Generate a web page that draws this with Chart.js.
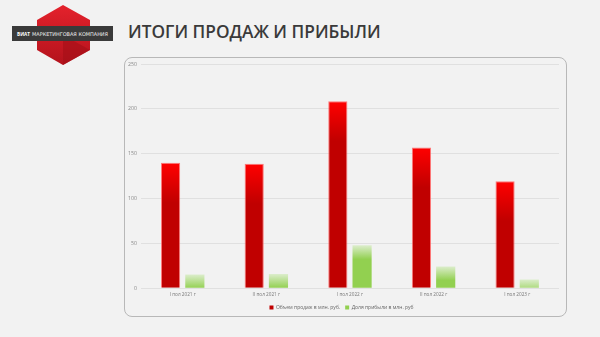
<!DOCTYPE html>
<html lang="ru">
<head>
<meta charset="utf-8">
<script src="https://cdn.jsdelivr.net/npm/chart.js@4"></script>
<style>
  html, body { margin: 0; padding: 0; }
  body { width: 600px; height: 337px; background: #f2f2f2; position: relative; overflow: hidden; font-family: "Open Sans", sans-serif; }
  .logo { position: absolute; left: 0; top: 0; }
  h1 { position: absolute; left: 128px; top: 20px; margin: 0; font-size: 17.3px; font-weight: 600; color: #3a3a3a; }
  .panel { position: absolute; left: 124px; top: 57px; width: 441px; height: 258px; border: 1px solid #b8b8b8; border-radius: 8px; }
  #chart { position: absolute; left: 124px; top: 57px; }
</style>
</head>
<body>
<svg class="logo" width="125" height="66" viewBox="0 0 125 66">
  <defs>
    <linearGradient id="hex" x1="0" y1="0" x2="0" y2="1">
      <stop offset="0" stop-color="#e4222c"/>
      <stop offset="1" stop-color="#b3121c"/>
    </linearGradient>
  </defs>
  <polygon points="63,5 90,20 90,50 63,65 37,50 37,20" fill="url(#hex)"/>
  <polygon points="63,35 90,50 63,65" fill="#a30f18" opacity="0.6"/>
  <rect x="12" y="26" width="101" height="15" fill="#3a3a3a"/>
  <text x="17" y="36" font-family="Open Sans, sans-serif" font-size="5" fill="#fff" textLength="13" lengthAdjust="spacingAndGlyphs"><tspan font-weight="700">ВИАТ</tspan></text>
  <text x="32" y="36" font-family="Liberation Sans Narrow, DejaVu Sans Condensed, sans-serif" font-size="5" fill="#eee" textLength="76" lengthAdjust="spacingAndGlyphs">МАРКЕТИНГОВАЯ КОМПАНИЯ</text>
</svg>
<h1>ИТОГИ ПРОДАЖ И ПРИБЫЛИ</h1>
<div class="panel"></div>
<canvas id="chart" width="442" height="266"></canvas>
<script>
// periods and values, mln rub
const periods = ['I пол 2021 г', 'II пол 2021 г', 'I пол 2022 г', 'II пол 2022 г', 'I пол 2023 г'];
const salesVolume = [140, 139, 208.5, 157, 119.5];
const profitShare = [15.5, 16, 48, 24.5, 10];
const yTicks = [0, 50, 100, 150, 200, 250];

const seriesNames = ['Объем продаж в млн. руб.', 'Доля прибыли в млн. руб'];

// vertical fade from the top of each bar
const fadeFill = (topColor, baseColor, depth) => (ctx) => {
  const chart = ctx.chart;
  if (ctx.type !== 'data' || !chart.chartArea) return baseColor;
  const top = chart.scales.y.getPixelForValue(ctx.raw);
  const g = chart.ctx.createLinearGradient(0, top, 0, top + depth);
  g.addColorStop(0, topColor);
  g.addColorStop(1, baseColor);
  return g;
};

new Chart(document.getElementById('chart'), {
  type: 'bar',
  data: {
    labels: periods,
    datasets: [
      {
        label: seriesNames[0],
        data: salesVolume,
        backgroundColor: fadeFill('#ff0000', '#c00000', 40),
        borderColor: 'rgba(255,90,90,0.8)',
        borderWidth: 1,
        categoryPercentage: 0.58,
        barPercentage: 0.79
      },
      {
        label: seriesNames[1],
        data: profitShare,
        backgroundColor: fadeFill('#dcedcc', '#92d050', 14),
        borderWidth: 0,
        categoryPercentage: 0.58,
        barPercentage: 0.79
      }
    ]
  },
  options: {
    responsive: false,
    animation: false,
    layout: { padding: { left: 0, right: 7, top: 3, bottom: 3 } },
    plugins: {
      tooltip: { enabled: false },
      legend: {
        position: 'bottom',
        labels: {
          boxWidth: 4,
          boxHeight: 4,
          padding: 5,
          color: '#666',
          font: { family: 'Open Sans', size: 5 },
          generateLabels: (chart) => chart.data.datasets.map((ds, i) => ({
            text: ds.label,
            fillStyle: i === 0 ? '#c00000' : '#92d050',
            strokeStyle: 'transparent',
            lineWidth: 0,
            datasetIndex: i,
            fontColor: '#666'
          }))
        }
      }
    },
    scales: {
      x: {
        grid: { display: false, drawTicks: false },
        border: { display: false },
        ticks: { color: '#777', font: { family: 'Open Sans', size: 4.7 }, padding: 3 }
      },
      y: {
        min: 0,
        max: 250,
        afterBuildTicks: (axis) => { axis.ticks = yTicks.map(v => ({ value: v })); },
        grid: { color: '#e0e0e0', drawTicks: false },
        border: { display: false },
        ticks: { color: '#888', font: { family: 'Open Sans', size: 5.2 }, padding: 4 }
      }
    }
  }
});
</script>
</body>
</html>
